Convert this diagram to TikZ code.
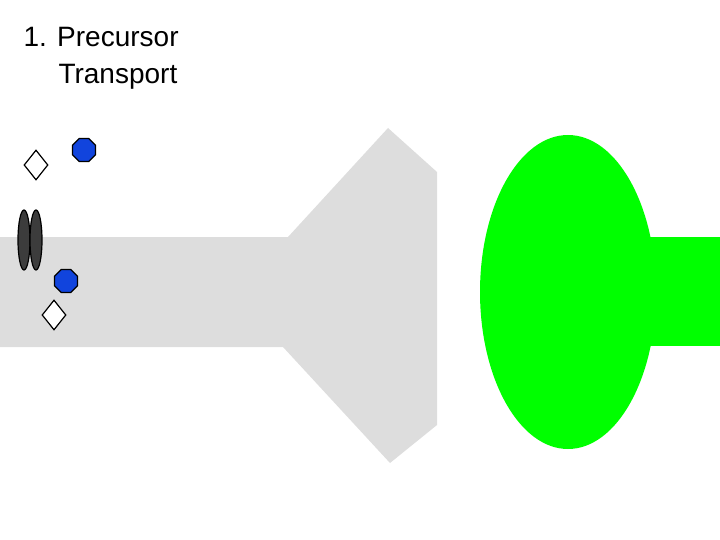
\documentclass[tikz,border=0pt]{standalone}
\usepackage{fontspec}
\setmainfont{Liberation Sans}
\usetikzlibrary{shapes.geometric}
\begin{document}
\begin{tikzpicture}[x=1pt,y=-1pt,
  oct/.style={regular polygon,regular polygon sides=8,fill={rgb,255:red,17;green,68;blue,221},draw=black,line width=1.2pt,minimum size=25pt,inner sep=0pt},
  dia/.style={diamond,draw=black,fill=white,line width=1.2pt,minimum width=24pt,minimum height=30pt,inner sep=0pt},
  rib/.style={ellipse,draw=black,fill={rgb,255:red,60;green,60;blue,60},line width=1.2pt,minimum width=12pt,minimum height=60pt,inner sep=0pt}]
\useasboundingbox (0,0) rectangle (720,540);
\definecolor{lg}{RGB}{221,221,221}
\fill[lg] (0,237) -- (288,237) -- (388,128) -- (437,172) -- (437,425) -- (390,463) -- (283,347) -- (0,347) -- cycle;
\fill[green] (640,237) rectangle (720,346);
\fill[green] (568,292) ellipse [x radius=88, y radius=157];
\node[anchor=base west,font=\fontsize{28}{34}\selectfont,align=left] (t) at (20,47) {1. Precursor};
\node[anchor=base west,font=\fontsize{28}{34}\selectfont] (t2) at (55,84) {Transport};
\node[dia] (d1) at (36,165) {};
\node[oct] (o1) at (84,150) {};
\node[rib] (r1) at (24,240) {};
\node[rib] (r2) at (36,240) {};
\node[oct] (o2) at (66,281) {};
\node[dia] (d2) at (54,315) {};
\end{tikzpicture}
\end{document}
